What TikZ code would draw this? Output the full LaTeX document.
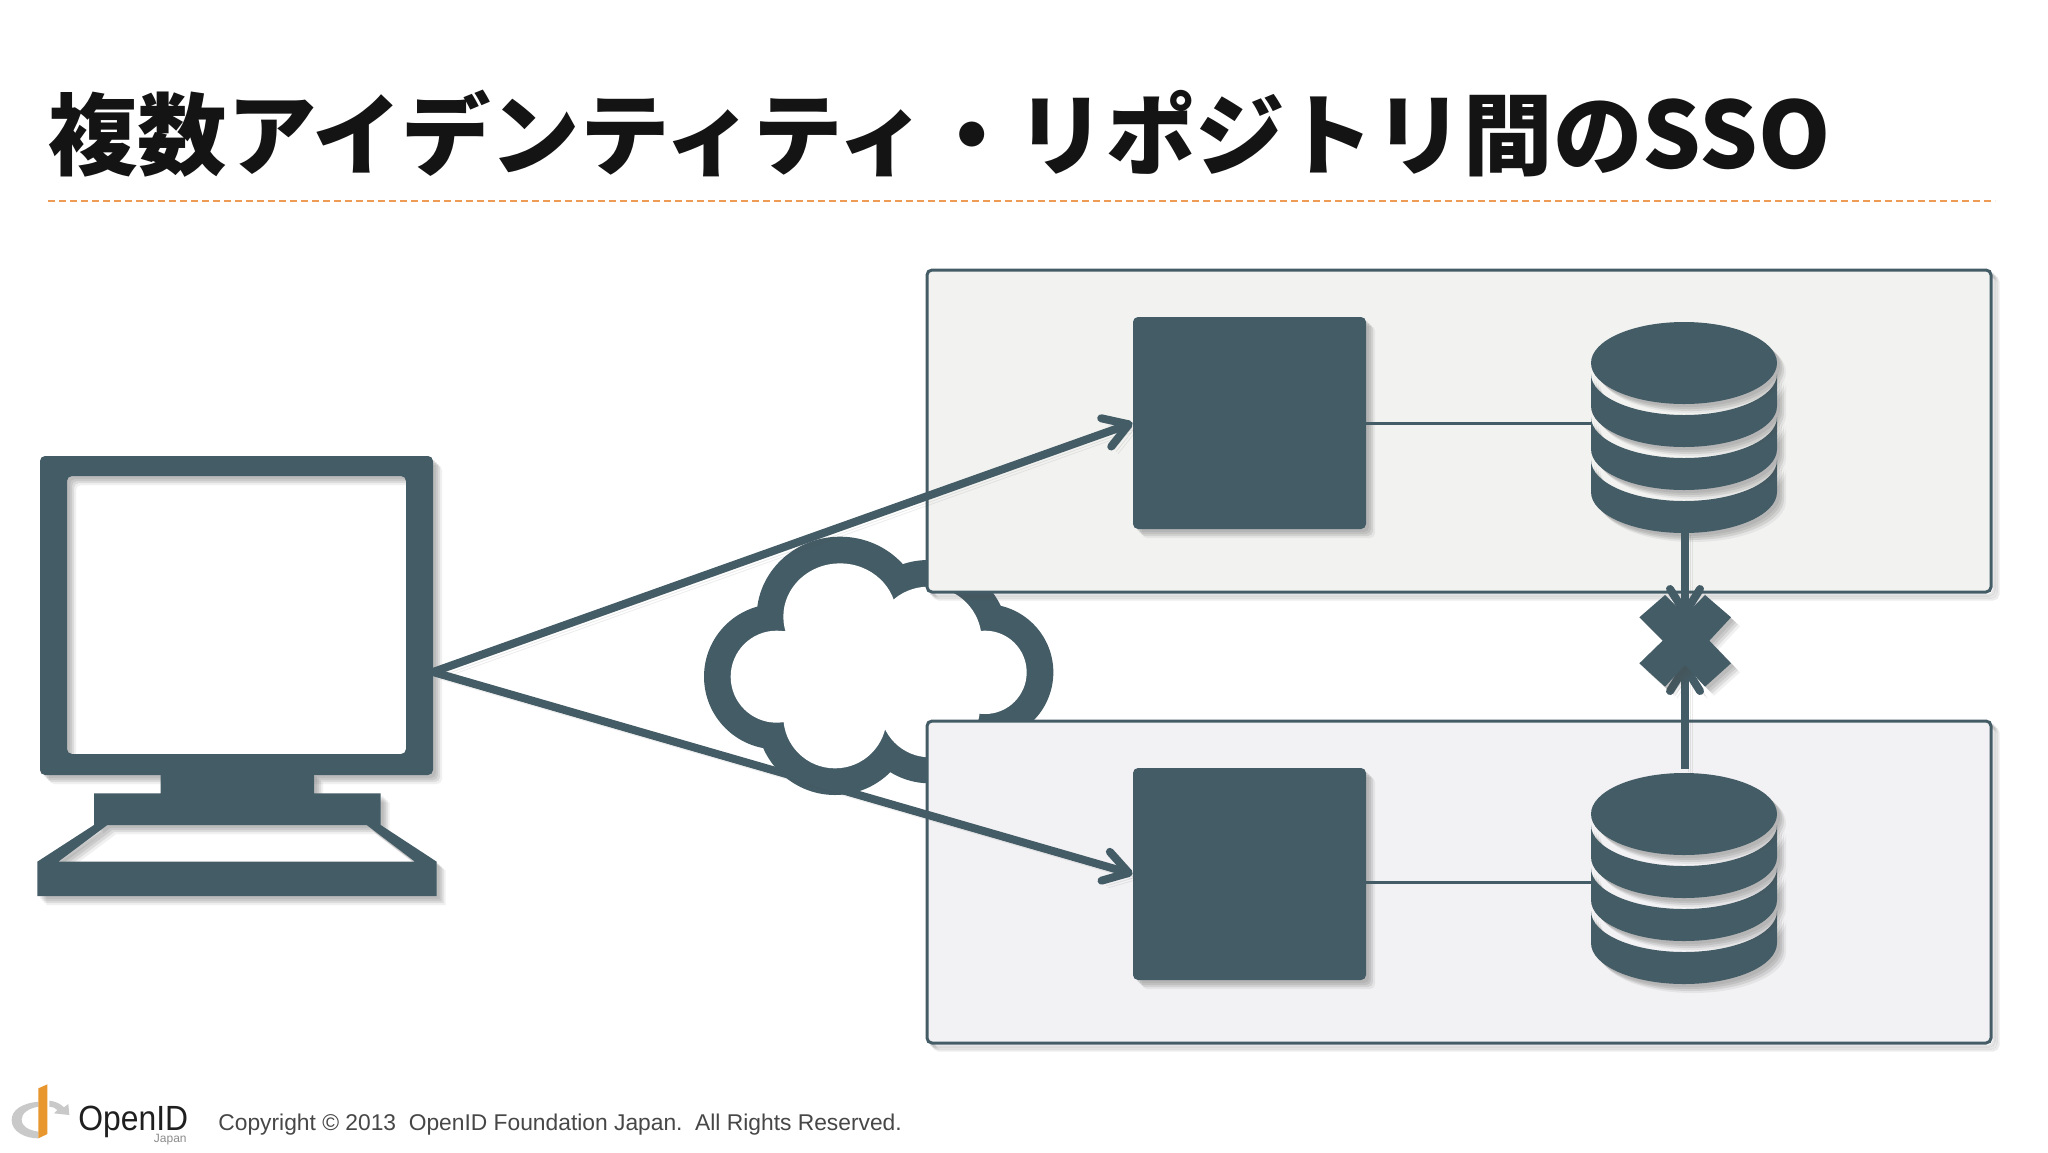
\documentclass[tikz,border=0pt]{standalone}
\usepackage{fontspec}
\usepackage{graphicx}
\usetikzlibrary{arrows.meta}
\setmainfont{Liberation Sans}
\newfontfamily\cjkfont{Noto Sans CJK JP}
\definecolor{slate}{HTML}{445C66}
\definecolor{panelA}{HTML}{F2F3F1}
\definecolor{panelB}{HTML}{F2F1F3}
\definecolor{rulecol}{HTML}{EE9C55}
\definecolor{logogrey}{HTML}{C9C9C9}
\definecolor{logoorange}{HTML}{E8962E}
\tikzset{
  softfill/.style={
    preaction={draw=none,fill=black!70,fill opacity=.10,transform canvas={shift={(1.5pt,-1.5pt)}}},
    preaction={draw=none,fill=black!70,fill opacity=.12,transform canvas={shift={(2.5pt,-2.5pt)}}},
    preaction={draw=none,fill=black!70,fill opacity=.12,transform canvas={shift={(3.5pt,-3.5pt)}}},
    preaction={draw=none,fill=black!70,fill opacity=.08,transform canvas={shift={(4.5pt,-4.5pt)}}}},
  softline/.style={
    preaction={draw=black!70,draw opacity=.14,transform canvas={shift={(1.5pt,-1.5pt)}}},
    preaction={draw=black!70,draw opacity=.12,transform canvas={shift={(2.5pt,-2.5pt)}}},
    preaction={draw=black!70,draw opacity=.10,transform canvas={shift={(3.5pt,-3.5pt)}}}},
  panel/.style={draw=slate,line width=1.5pt,rounded corners=2.5pt,minimum width=532pt,minimum height=161pt,inner sep=0pt,softline},
  server/.style={fill=slate,rounded corners=2.5pt,minimum width=116.5pt,minimum height=106pt,inner sep=0pt,softfill},
  thinlink/.style={draw=slate,line width=1.5pt},
  flow/.style={draw=slate,line width=4pt,softline,-{Straight Barb[length=12pt,width=15pt,line width=4pt,round]}},
  dblayer/.style={fill=slate,softfill},
  ring/.style={fill=slate},
  hole/.style={fill=white}
}
\begin{document}
\begin{tikzpicture}[x=0.5pt,y=-0.5pt]
\useasboundingbox (0,0) rectangle (2048,1152);
\fill[white] (0,0) rectangle (2048,1152);
% title
\node[anchor=base west,inner sep=0pt,text=black!92] (title) at (48,168)
  {\cjkfont\fontsize{44.7pt}{48pt}\selectfont\bfseries 複数アイデンティティ・リポジトリ間の{\fontsize{46pt}{48pt}\selectfont SSO}};
\coordinate (ruleL) at (48,201);
\coordinate (ruleR) at (1995,201);
\draw[rulecol,line width=1pt,dash pattern=on 3.5pt off 2pt] (ruleL) -- (ruleR);
% cloud
\begin{scope}[shift={(680,500)},scale=1/3]
  \fill[ring] (480,350) ellipse [x radius=250,y radius=240];
  \fill[ring] (745,420) circle [radius=240];
  \fill[ring] (915,517) circle [radius=205];
  \fill[ring] (750,622) circle [radius=228];
  \fill[ring] (465,650) circle [radius=235];
  \fill[ring] (290,530) circle [radius=218];
  \fill[hole] (480,350) ellipse [x radius=170,y radius=160];
  \fill[hole] (745,420) circle [radius=160];
  \fill[hole] (915,517) circle [radius=125];
  \fill[hole] (750,622) circle [radius=150];
  \fill[hole] (465,650) circle [radius=155];
  \fill[hole] (290,530) circle [radius=138];
  \fill[hole] (305,395) -- (660,315) -- (905,395) -- (850,635) -- (610,690) -- (325,665) -- cycle;
\end{scope}
% panels
\node[panel,fill=panelA] (panelone) at (1459,431) {};
\node[panel,fill=panelB] (paneltwo) at (1459,882) {};
% servers
\node[server] (serverone) at (1249.5,423) {};
\node[server] (servertwo) at (1249.5,874) {};
% databases
\foreach \dy/\nm in {0/one,451/two}{
  \begin{scope}[yshift=-\dy*0.5pt]
    \foreach \a/\b in {460/492,417/449,374/406}{
      \path[dblayer] (1591,\a) arc[start angle=180,end angle=0,x radius=93,y radius=41]
        -- (1777,\b) arc[start angle=0,end angle=180,x radius=93,y radius=41] -- cycle;
    }
    \path[dblayer] (1684,363) ellipse [x radius=93,y radius=41];
  \end{scope}
}
\coordinate (dbonew) at (1591,423);
\coordinate (dbtwow) at (1591,882);
\coordinate (dbones) at (1685,530);
\coordinate (dbtwon) at (1685,769);
\coordinate (serveronelink) at (1366,423);
\coordinate (servertwolink) at (1366,882);
\draw[thinlink] (serveronelink) -- (dbonew);
\draw[thinlink] (servertwolink) -- (dbtwow);
% computer
\path[softfill,fill=slate,even odd rule]
  [rounded corners=2.5pt] (40,456) rectangle (433,775) (406,476) rectangle (67,754);
\begin{scope}[shift={(20,440)},scale=1/3]
  \path[softfill,fill=slate,even odd rule]
    (422,1000) -- (882,1000) -- (882,1060) -- (1082,1060) -- (1082,1155) -- (1250,1265) -- (1250,1368)
    -- (52,1368) -- (52,1265) -- (222,1155) -- (222,1060) -- (422,1060) -- cycle
    (262,1155) -- (115,1265) -- (1185,1265) -- (1040,1155) -- cycle;
\end{scope}
\coordinate (pc) at (433,672);
% flows
\coordinate (xtop) at (1685,617);
\coordinate (xbot) at (1685,663);
\draw[flow] (pc) -- (serverone.west);
\draw[flow] (pc) -- (servertwo.west);
\draw[flow] (dbones) -- (xtop);
\draw[flow] (dbtwon) -- (xbot);
% cross
\begin{scope}[shift={(1550,300)},scale=1/3]
  \path[softfill,fill=slate] (345,885) -- (405,945) -- (465,885) -- (543,952) -- (478,1022) -- (543,1090)
    -- (465,1160) -- (405,1095) -- (345,1160) -- (268,1090) -- (338,1022) -- (268,952) -- cycle;
\end{scope}
% logo
\begin{scope}[shift={(0,1060)},scale=1/3]
  \fill[logogrey] (115,125) .. controls (65,130) and (35,150) .. (35,180) .. controls (35,215) and (75,235) .. (115,235)
    -- (115,215) .. controls (85,210) and (65,200) .. (65,178) .. controls (65,160) and (85,145) .. (115,140) -- cycle;
  \fill[logogrey] (148,122) -- (148,140) .. controls (160,141) and (168,145) .. (172,150) -- (162,160) -- (208,165) -- (205,132)
    -- (192,142) .. controls (180,130) and (165,124) .. (148,122) -- cycle;
  \fill[logoorange] (115,85) -- (142,73) -- (142,222) -- (115,235) -- cycle;
\end{scope}
\node[anchor=base west,inner sep=0pt,text=black!88] (openid) at (78,1130)
  {\smash{\scalebox{.91}[1]{\fontsize{17.5pt}{18pt}\selectfont OpenID}}};
\node[anchor=base east,inner sep=0pt,text=black!45] (japan) at (187,1142)
  {\fontsize{6pt}{7pt}\selectfont Japan};
\node[anchor=base west,inner sep=0pt,text=black!72] (copy) at (218,1130)
  {\fontsize{11.4pt}{14pt}\selectfont Copyright © 2013\ \ OpenID Foundation Japan.\ \ All Rights Reserved.};
\end{tikzpicture}
\end{document}
